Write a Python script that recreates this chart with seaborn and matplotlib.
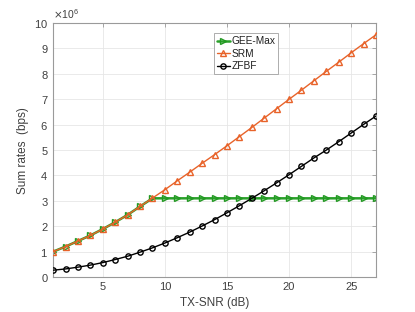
import matplotlib
matplotlib.use("Agg")
import matplotlib.pyplot as plt
import seaborn as sns
import numpy as np
import pandas as pd

snr_db = list(range(1, 28))
srm = [1.00, 1.20, 1.42, 1.64, 1.89, 2.16, 2.45, 2.78, 3.11, 3.44, 3.79, 4.13, 4.48,
       4.82, 5.17, 5.53, 5.89, 6.26, 6.63, 7.00, 7.36, 7.73, 8.10, 8.46, 8.83, 9.19, 9.54]
gee_max = [1.00, 1.20, 1.42, 1.64, 1.89, 2.16, 2.45, 2.78, 3.10] + [3.10] * 18
zfbf = [0.27, 0.32, 0.39, 0.47, 0.57, 0.69, 0.82, 0.98, 1.15, 1.34, 1.55, 1.77, 2.01,
        2.26, 2.53, 2.81, 3.10, 3.40, 3.71, 4.03, 4.36, 4.69, 5.00, 5.33, 5.67, 6.01, 6.34]
scale = 1e6
x_ticks = [5, 10, 15, 20, 25]
y_ticks = list(range(0, 11))

sns.set_style("white")
plt.rcParams['font.family'] = ['Liberation Sans', 'DejaVu Sans']

fig = plt.figure(figsize=(4.15, 3.12), dpi=100)
ax = fig.add_axes([0.128, 0.112, 0.778, 0.814])

df = pd.DataFrame({"snr": snr_db,
                   "GEE": np.array(gee_max) * scale,
                   "SRM": np.array(srm) * scale,
                   "ZFBF": np.array(zfbf) * scale})

sns.lineplot(data=df, x="snr", y="GEE", ax=ax, color="#2aa02a", lw=1.8,
             marker=">", markersize=4.2, markerfacecolor="none", markeredgecolor="#229922",
             markeredgewidth=1.0, label="GEE-Max", zorder=2)
sns.lineplot(data=df, x="snr", y="SRM", ax=ax, color="#e8632a", lw=1.0,
             marker="^", markersize=4.5, markerfacecolor="none", markeredgecolor="#e8632a",
             markeredgewidth=1.0, label="SRM", zorder=3)
sns.lineplot(data=df, x="snr", y="ZFBF", ax=ax, color="black", lw=1.0,
             marker="o", markersize=3.8, markerfacecolor="none", markeredgecolor="black",
             markeredgewidth=1.0, label="ZFBF", zorder=3)

ax.set_xlim(1, 27)
ax.set_ylim(0, 10 * scale)
ax.set_xticks(x_ticks)
ax.set_yticks([v * scale for v in y_ticks])
ax.ticklabel_format(axis='y', style='sci', scilimits=(6, 6), useMathText=True)
ax.yaxis.get_offset_text().set_fontsize(7.5)
ax.yaxis.get_offset_text().set_color("#404040")

ax.grid(True, color="#e6e6e6", lw=0.6)
for s in ax.spines.values():
    s.set_color("#9a9a9a")
    s.set_linewidth(0.8)
ax.tick_params(direction="in", length=3, width=0.6, color="#9a9a9a",
               labelsize=8, labelcolor="#404040", top=True, right=True)

ax.set_xlabel("TX-SNR (dB)", fontsize=8.5, color="#404040", labelpad=4)
ax.set_ylabel("Sum rates  (bps)", fontsize=8.5, color="#404040", labelpad=4)

leg = ax.legend(loc="upper left", bbox_to_anchor=(0.497, 0.96), fontsize=7.3,
                frameon=True, fancybox=False, edgecolor="#a0a0a0", framealpha=1,
                handlelength=1.3, handletextpad=0.15, borderpad=0.3, labelspacing=0.25,
                borderaxespad=0)
leg.get_frame().set_linewidth(0.6)
for t in leg.get_texts():
    t.set_color("#202020")

fig.savefig("out.png", dpi=100)
